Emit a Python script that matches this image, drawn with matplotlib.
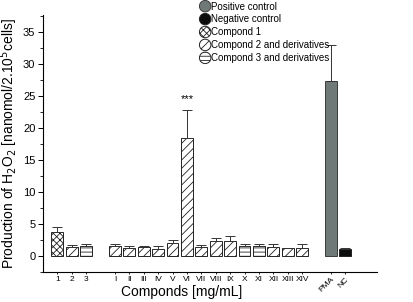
import matplotlib
matplotlib.use("Agg")
import matplotlib.pyplot as plt
import matplotlib.patches as mpatches
from matplotlib.legend_handler import HandlerPatch
import numpy as np

plt.rcParams['font.family'] = ['Liberation Sans', 'DejaVu Sans']
plt.rcParams['hatch.linewidth'] = 0.6

labels = ["1", "2", "3", "I", "II", "III", "IV", "V", "VI", "VII", "VIII", "IX",
          "X", "XI", "XII", "XIII", "XIV", "PMA", "NC"]
means = [3.7, 1.35, 1.55, 1.55, 1.2, 1.4, 1.05, 2.1, 18.35, 1.4, 2.3, 2.4,
         1.6, 1.56, 1.46, 1.2, 1.3, 27.35, 1.05]
errors = [0.8, 0.45, 0.35, 0.35, 0.35, 0.25, 0.5, 0.4, 4.45, 0.4, 0.45, 0.7,
          0.27, 0.31, 0.41, 0.1, 0.57, 5.55, 0.15]
groups = ["c1", "c2", "c3", "c2", "c2", "c2", "c2", "c2", "c2", "c2", "c2", "c2",
          "c3", "c3", "c2", "c2", "c2", "pos", "neg"]
slots = [0, 1, 2, 4, 5, 6, 7, 8, 9, 10, 11, 12, 13, 14, 15, 16, 17, 19, 20]

styles = {
    "pos": dict(facecolor="#6f7a78", hatch=None, edgecolor="#3c3c3c"),
    "neg": dict(facecolor="#0d0d0d", hatch=None, edgecolor="#222222"),
    "c1": dict(facecolor="white", hatch="xxxxx", edgecolor="#222222"),
    "c2": dict(facecolor="white", hatch="////", edgecolor="#222222"),
    "c3": dict(facecolor="white", hatch="----", edgecolor="#222222"),
}
legend_names = {
    "pos": "Positive control",
    "neg": "Negative control",
    "c1": "Compond 1",
    "c2": "Compond 2 and derivatives",
    "c3": "Compond 3 and derivatives",
}

fig = plt.figure(figsize=(4.13, 3.02), dpi=100)
ax = fig.add_axes([0.104, 0.099, 0.809, 0.851])

for x, m, e, g in zip(slots, means, errors, groups):
    st = styles[g]
    ax.bar(x, m, width=0.82, facecolor=st["facecolor"], edgecolor=st["edgecolor"],
           hatch=st["hatch"], linewidth=0.7)
    ax.errorbar(x, m, yerr=[[0], [e]], color="#333333", elinewidth=0.7,
                capsize=3.5, capthick=0.7, fmt="none")

vi = labels.index("VI")
ax.text(slots[vi], means[vi] + errors[vi] + 0.9, "***", ha="center", va="bottom", fontsize=8)

ax.set_xlim(-1.0, 22.2)
ax.set_ylim(-2.5, 37.6)
ax.set_yticks(np.arange(0, 36, 5))
ax.set_yticks(np.arange(-2.5, 37.6, 2.5), minor=True)
ax.set_xticks(slots)
ax.set_xticklabels(labels, fontsize=6)
for t in ax.get_xticklabels()[-2:]:
    t.set_rotation(45)
    t.set_ha("right")
    t.set_va("top")
    t.set_rotation_mode("anchor")
ax.tick_params(axis="y", which="major", length=3.5, width=0.7, labelsize=8, pad=2)
ax.tick_params(axis="y", which="minor", length=2, width=0.6)
ax.tick_params(axis="x", length=1.5, width=0.6, pad=1)

ax.spines["top"].set_visible(False)
ax.spines["right"].set_visible(False)
ax.spines["left"].set_linewidth(0.8)
ax.spines["bottom"].set_linewidth(0.8)

ax.set_ylabel("Production of H$_2$O$_2$ [nanomol/2.10$^5$cells]", fontsize=10, labelpad=2)
ax.set_xlabel("Componds [mg/mL]", fontsize=10)
ax.xaxis.set_label_coords(0.415, -0.05)


def make_circle(legend, orig_handle, xdescent, ydescent, width, height, fontsize):
    r = min(width, height) / 2 + 1
    return mpatches.Circle((width / 2 - xdescent, height / 2 - ydescent), r)


handles = []
for g in ["pos", "neg", "c1", "c2", "c3"]:
    st = styles[g]
    handles.append(mpatches.Patch(facecolor=st["facecolor"], edgecolor=st["edgecolor"],
                                  hatch=st["hatch"], linewidth=0.7,
                                  label=legend_names[g]))
fig.legend(handles=handles, loc="upper left", bbox_to_anchor=(0.485, 0.995),
           frameon=False, fontsize=7, handlelength=1.0, handleheight=1.0,
           handletextpad=0.1, labelspacing=0.3, borderpad=0, borderaxespad=0,
           handler_map={mpatches.Patch: HandlerPatch(patch_func=make_circle)})

fig.savefig("out.png", dpi=100)
